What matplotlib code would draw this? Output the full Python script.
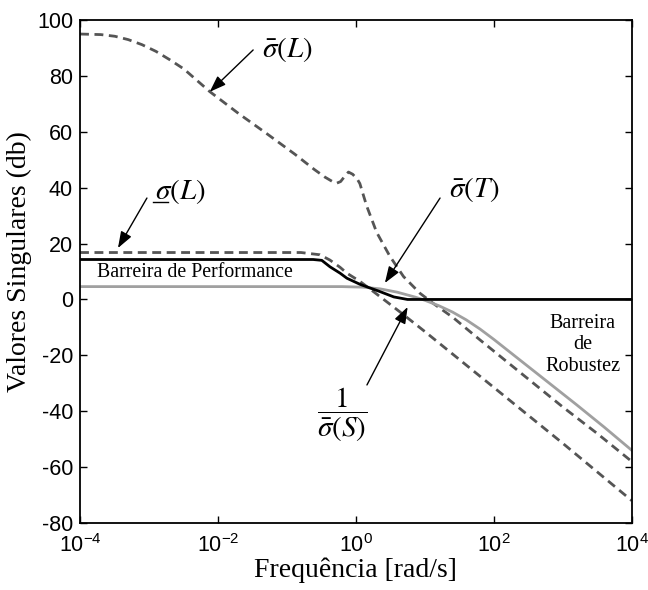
import matplotlib
matplotlib.use("Agg")
import matplotlib.pyplot as plt

# curve samples: frequency (rad/s) and value (dB)
w_Lmax = [1e-4, 2e-4, 3.2e-4, 5e-4, 7.9e-4, 1.26e-3, 2e-3, 3.2e-3, 7.6e-3,
          2e-2, 5e-2, 0.13, 0.25, 0.355, 0.45, 0.525, 0.6, 0.7, 0.78, 0.9,
          1.05, 1.14, 1.43, 2.0, 3.1, 4.9, 8.5, 13.2, 25.7, 63.1, 251, 1000,
          3162, 1e4]
sv_Lmax = [95.0, 94.8, 94.2, 93.0, 91.2, 88.8, 85.8, 82.5, 74.4,
           66.5, 59.5, 52.0, 46.5, 43.8, 42.3, 41.6, 42.2, 44.3, 45.6, 44.8,
           43.0, 41.5, 33.5, 24.0, 15.5, 8.2, 2.2, -1.4, -6.5, -14.5, -26.5, -38.5,
           -48.0, -58.0]

w_Lmin = [1e-4, 0.16, 0.3, 0.42, 0.59, 0.74, 1.14, 2.24, 4.37, 10.0, 100, 1000, 1e4]
sv_Lmin = [16.8, 16.8, 16.0, 14.1, 11.5, 9.4, 6.5, 1.0, -4.5, -11.5, -31.5, -51.5, -72.0]

w_S = [1e-4, 0.24, 0.32, 0.42, 0.59, 0.74, 1.15, 2.24, 3.55, 5.6, 1e4]
sv_S = [14.3, 14.3, 14.0, 11.7, 9.4, 7.6, 5.4, 2.8, 0.9, 0.0, 0.0]

w_T = [1e-4, 0.63, 1.26, 2.24, 3.98, 7.1, 10.0, 15.8, 25.1, 39.8, 63.1, 100,
       251, 631, 1585, 3981, 1e4]
sv_T = [4.6, 4.6, 4.4, 3.8, 2.6, 0.9, -0.3, -2.2, -4.5, -7.3, -10.6, -14.3,
        -22.1, -29.9, -37.7, -45.7, -54.0]

xticks = [1e-4, 1e-2, 1, 1e2, 1e4]
xticklabels = [r"$10^{-4}$", r"$10^{-2}$", r"$10^{0}$", r"$10^{2}$", r"$10^{4}$"]
yticks = [-80, -60, -40, -20, 0, 20, 40, 60, 80, 100]

plt.rcParams["mathtext.fontset"] = "custom"
plt.rcParams["mathtext.rm"] = "Liberation Sans"
plt.rcParams["mathtext.it"] = "Liberation Sans:italic"
plt.rcParams["font.family"] = "Liberation Sans"
plt.rcParams["axes.unicode_minus"] = False

fig = plt.figure(figsize=(6.48, 5.9), dpi=100)
ax = fig.add_axes([0.1235, 0.1136, 0.8515, 0.8524])

dash = (0, (3.2, 2.0))
ax.plot(w_Lmax, sv_Lmax, color="#555555", lw=2.0, ls=dash)
ax.plot(w_Lmin, sv_Lmin, color="#555555", lw=2.0, ls=dash)
ax.plot(w_T, sv_T, color="#a0a0a0", lw=2.0)
ax.plot(w_S, sv_S, color="black", lw=2.0)

ax.set_xscale("log")
ax.set_xlim(1e-4, 1e4)
ax.set_ylim(-80, 100)
ax.set_xticks(xticks)
ax.set_xticklabels(xticklabels)
ax.minorticks_off()
ax.set_yticks(yticks)
ax.tick_params(direction="in", top=True, right=True, length=5, width=1,
               labelsize=15.5)
ax.tick_params(axis="x", pad=8)
ax.tick_params(axis="y", pad=5)
for s in ax.spines.values():
    s.set_linewidth(1.3)

ax.set_xlabel("Frequência [rad/s]", family="Liberation Serif", fontsize=20)
ax.set_ylabel("Valores Singulares (db)", family="Liberation Serif", fontsize=20)
ax.xaxis.set_label_coords(0.5, -0.068)
ax.yaxis.set_label_coords(-0.087, 0.52)

# annotations
arrow = dict(arrowstyle="-|>,head_length=1.0,head_width=0.36", color="black",
             lw=1.0, shrinkA=0, shrinkB=0)
mkw = dict(fontsize=21, math_fontfamily="stix", ha="center", va="center")

ax.text(10**-1.0, 89.3, r"$\bar{\sigma}(L)$", **mkw)
ax.annotate("", xy=(10**-2.12, 74.3), xytext=(10**-1.49, 89.3), arrowprops=arrow)

ax.text(10**-2.55, 38.8, r"$\sigma(L)$", **mkw)
# underline below the sigma (mathtext has no \underline)
ax.plot([0.133, 0.159], [0.638, 0.638], color="black", lw=1.0,
        transform=ax.transAxes)
ax.annotate("", xy=(10**-3.45, 18.4), xytext=(10**-3.03, 36.3), arrowprops=arrow)

ax.text(10**1.71, 39.2, r"$\bar{\sigma}(T)$", **mkw)
ax.annotate("", xy=(10**0.42, 5.9), xytext=(10**1.22, 36.3), arrowprops=arrow)

ax.text(10**-0.2, -41.3, r"$\dfrac{1}{\bar{\sigma}(S)}$", fontsize=21,
        math_fontfamily="stix", ha="center", va="center")
ax.annotate("", xy=(10**0.75, -2.7), xytext=(10**0.16, -30.6), arrowprops=arrow)

ax.text(10**-3.75, 9.5, "Barreira de Performance", family="Liberation Serif",
        fontsize=14.3, ha="left", va="center")
ax.text(10**3.29, -16.3, "Barreira\nde\nRobustez", family="Liberation Serif",
        fontsize=14.5, ha="center", va="center", linespacing=1.2)

fig.savefig("out.png", dpi=100)
